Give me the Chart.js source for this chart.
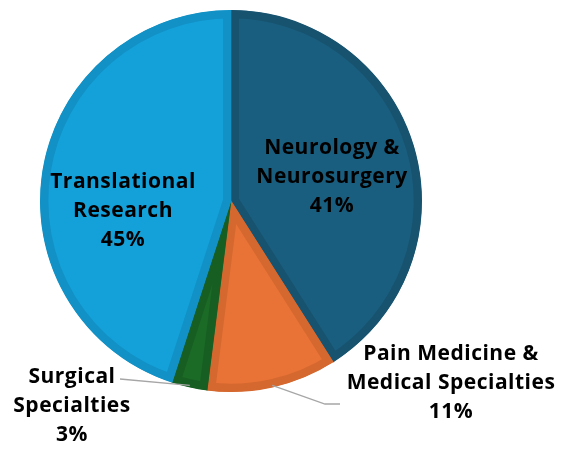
<!DOCTYPE html>
<html>
<head>
<meta charset="utf-8">
<script src="https://cdn.jsdelivr.net/npm/chart.js@4/dist/chart.umd.min.js"></script>
<style>
  html, body { margin: 0; padding: 0; background: #fff; }
  #wrap { width: 563px; height: 449px; }
</style>
</head>
<body>
<div id="wrap"><canvas id="pie" width="563" height="449"></canvas></div>
<script>
const categories = ['Neurology & Neurosurgery', 'Pain Medicine & Medical Specialties', 'Surgical Specialties', 'Translational Research'];
const labelLines = [['Neurology &', 'Neurosurgery'], ['Pain Medicine &', 'Medical Specialties'], ['Surgical', 'Specialties'], ['Translational', 'Research']];
const shares = [41, 11, 3, 45];
const fills = ['#1a5e7f', '#e97236', '#1b6b27', '#14a0d8'];
const borders = ['#17536f', '#d4682f', '#175e22', '#1191c5'];

// where each label block sits (centre x, first line y) and leader line ends
const labelPos = [
  { x: 332, y: 148 },
  { x: 451, y: 354, leader: [[325, 404], [340, 404]] },
  { x: 72, y: 377, leader: [[120, 379]] },
  { x: 123, y: 182 }
];

const labelPlugin = {
  id: 'pieLabels',
  afterDatasetsDraw(chart) {
    const ctx = chart.ctx;
    const arcs = chart.getDatasetMeta(0).data;
    ctx.save();
    arcs.forEach((arc, i) => {
      const p = labelPos[i];
      if (p.leader) {
        const mid = (arc.startAngle + arc.endAngle) / 2;
        const r = arc.outerRadius - 2;
        ctx.beginPath();
        ctx.moveTo(arc.x + Math.cos(mid) * r, arc.y + Math.sin(mid) * r);
        p.leader.forEach(pt => ctx.lineTo(pt[0], pt[1]));
        ctx.strokeStyle = '#a6a6a6';
        ctx.lineWidth = 1.3;
        ctx.stroke();
      }
      ctx.fillStyle = '#000';
      ctx.font = 'bold 21px "Open Sans", sans-serif';
      ctx.letterSpacing = '0.5px';
      ctx.textAlign = 'center';
      ctx.textBaseline = 'middle';
      const lines = labelLines[i].concat([shares[i] + '%']);
      lines.forEach((t, k) => ctx.fillText(t, p.x, p.y + k * 29));
    });
    ctx.restore();
  }
};

new Chart(document.getElementById('pie'), {
  type: 'pie',
  data: {
    labels: categories,
    datasets: [{
      data: shares,
      backgroundColor: fills,
      borderColor: borders,
      borderWidth: 8,
      borderAlign: 'inner'
    }]
  },
  options: {
    responsive: false,
    animation: false,
    layout: { padding: { left: 40, top: 10, right: 141, bottom: 57 } },
    plugins: {
      legend: { display: false },
      tooltip: { enabled: false }
    }
  },
  plugins: [labelPlugin]
});
</script>
</body>
</html>
